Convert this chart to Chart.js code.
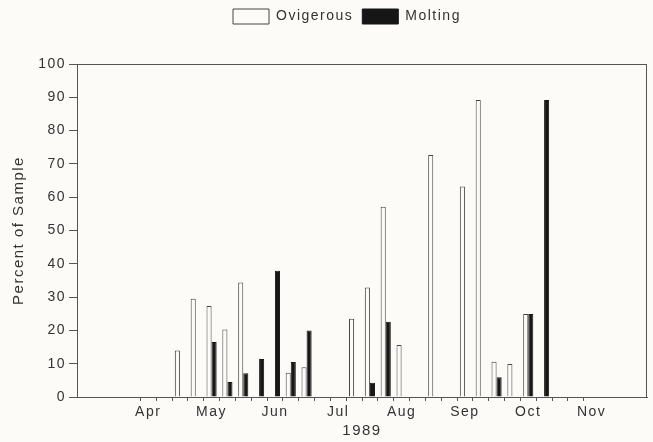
<!DOCTYPE html>
<html><head><meta charset="utf-8">
<script src="https://cdn.jsdelivr.net/npm/chart.js@4/dist/chart.umd.min.js"></script>
<style>html,body{margin:0;padding:0;background:#fcfbf8;}canvas{display:block;}</style>
</head><body>
<canvas id="c" width="653" height="442"></canvas>
<script>
// Weekly sampling slots (36 across Mar–Nov 1989); month names mark slots
const monthNames = ['Apr','May','Jun','Jul','Aug','Sep','Oct','Nov'];
const monthSlots = [4, 8, 12, 16, 20, 24, 28, 32];
const slotCount = 36;
const xTitle = '1989';
const yTitle = 'Percent of Sample';

// Percent of sample, per weekly slot (null = no bar)
const ovigerous = [null,null,null,null,null,null,14,29.5,27.3,20.3,34.4,null,null,7.3,8.9,null,null,23.5,32.9,57.1,15.6,null,72.7,null,63.2,89.2,10.6,9.9,24.9,null,null,null,null,null,null,null];
const molting   = [null,null,null,null,null,null,null,null,16.5,4.5,7.1,11.4,37.9,10.5,20,null,null,null,4.3,22.6,null,null,null,null,null,null,5.9,null,24.9,89.2,null,null,null,null,null,null];

const labels = Array.from({length: slotCount}, (_, i) => {
  const k = monthSlots.indexOf(i);
  return k >= 0 ? monthNames[k] : '';
});

const SP = '1.5px';
const INK = '#333';
const tickVisible = c => (c.index !== undefined && c.index >= 4 && c.index <= 32) ? '#555' : 'rgba(0,0,0,0)';

const helper = {
  id: 'helper',
  beforeUpdate(chart) {
    chart.ctx.letterSpacing = SP;
    const lg = chart.legend;
    if (lg && !lg._patched) {
      const f = lg.fit;
      lg.fit = function() { f.call(this); this.height = 64; };
      lg._patched = true;
    }
  },
  beforeLayout(chart) { chart.ctx.letterSpacing = SP; },
  afterUpdate(chart) {
    const lg = chart.legend;
    if (lg && lg.legendHitBoxes && lg.legendHitBoxes.length) {
      const d = 233 - lg.legendHitBoxes[0].left;
      lg.left += d; lg.right += d;
      lg.legendHitBoxes.forEach(h => h.left += d);
    }
  },
  beforeDraw(chart) { chart.ctx.letterSpacing = SP; },
  afterDatasetsDraw(chart) {
    const {ctx, chartArea: a} = chart;
    ctx.save();
    ctx.strokeStyle = '#555';
    ctx.lineWidth = 1;
    ctx.strokeRect(Math.round(a.left) + 0.5, Math.round(a.top) + 0.5, Math.round(a.right - a.left) - 1, Math.round(a.bottom - a.top));
    ctx.restore();
  }
};

Chart.defaults.font.family = '"Liberation Sans", Arial, sans-serif';
Chart.defaults.color = INK;

new Chart(document.getElementById('c'), {
  type: 'bar',
  data: {
    labels,
    datasets: [
      { label: 'Ovigerous', data: ovigerous, backgroundColor: '#fcfbf8', borderColor: '#444', borderWidth: 1 },
      { label: 'Molting', data: molting, backgroundColor: '#161616', borderColor: '#161616', borderWidth: 1 }
    ]
  },
  options: {
    responsive: false,
    animation: false,
    devicePixelRatio: 1,
    layout: { padding: { left: 6, right: 6, top: 0, bottom: 0 } },
    categoryPercentage: 0.64,
    barPercentage: 1,
    plugins: {
      legend: {
        position: 'top',
        labels: { boxWidth: 36, boxHeight: 15, padding: 9, color: INK, font: { size: 14 } }
      },
      tooltip: { enabled: false }
    },
    scales: {
      x: {
        offset: true,
        grid: { offset: true, drawOnChartArea: false, drawTicks: true, tickLength: 4, color: tickVisible, tickColor: tickVisible },
        border: { display: true, color: '#555', width: 1 },
        ticks: { autoSkip: false, maxRotation: 0, minRotation: 0, padding: 3, color: INK, font: { size: 14 } },
        title: { display: true, text: xTitle, color: INK, font: { size: 15 }, padding: { top: 0, bottom: 2 } },
        afterFit(s) { s.height = 45; }
      },
      y: {
        min: 0, max: 100,
        ticks: { stepSize: 10, padding: 3, color: INK, font: { size: 14 } },
        grid: { drawOnChartArea: false, drawTicks: true, tickLength: 8, color: '#555', tickColor: '#555' },
        border: { display: true, color: '#555', width: 1 },
        title: { display: true, text: yTitle, color: INK, font: { size: 15 }, padding: { top: 4, bottom: 0 } },
        afterFit(s) { s.width = 71; }
      }
    }
  },
  plugins: [helper]
});
</script>
</body></html>
